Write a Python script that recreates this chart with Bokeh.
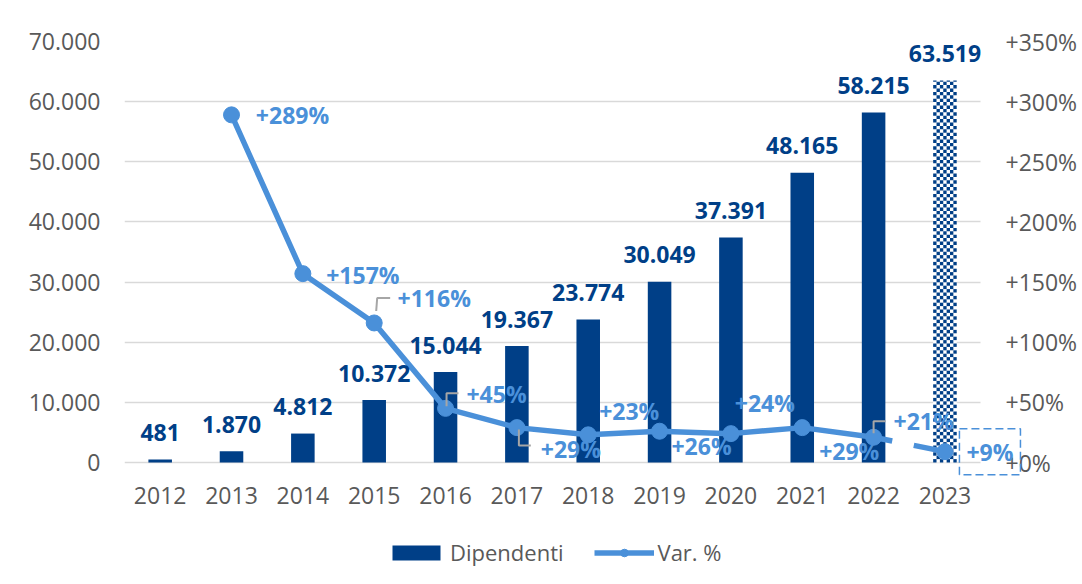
import numpy as np
from bokeh.plotting import figure
from bokeh.models import (Range1d, LinearAxis, FixedTicker, ColumnDataSource,
                          LabelSet, Label, Legend, LegendItem)
from bokeh.embed import file_html
from bokeh.resources import INLINE
from bokeh.core.properties import value

# ---------------- data ----------------
years = ["2012", "2013", "2014", "2015", "2016", "2017",
         "2018", "2019", "2020", "2021", "2022", "2023"]
dipendenti = [481, 1870, 4812, 10372, 15044, 19367,
              23774, 30049, 37391, 48165, 58215, 63519]
dipendenti_labels = ["481", "1.870", "4.812", "10.372", "15.044", "19.367",
                     "23.774", "30.049", "37.391", "48.165", "58.215", "63.519"]
var_years = years[1:]
var_pct = [289, 157, 116, 45, 29, 23, 26, 24, 29, 21, 9]
var_labels = ["+289%", "+157%", "+116%", "+45%", "+29%", "+23%",
              "+26%", "+24%", "+29%", "+21%", "+9%"]
left_ticks = [0, 10000, 20000, 30000, 40000, 50000, 60000, 70000]
left_tick_labels = ["0", "10.000", "20.000", "30.000", "40.000",
                    "50.000", "60.000", "70.000"]
right_ticks = [0, 50, 100, 150, 200, 250, 300, 350]
right_tick_labels = ["+0%", "+50%", "+100%", "+150%", "+200%",
                     "+250%", "+300%", "+350%"]

# ---------------- style / layout ----------------
BAR = "#003f87"
LINE = "#4a90d9"
GREY = "#595959"
FONT = "Open Sans"
FS = "23px"

W, H = 1080, 582
LEFT, TOP = 124, 41
CAT_PX = 71.5                 # pixels per category
VAL_PX = 421                  # pixels from 0 to axis max
EXTRA_R = 50                  # frame extension to the right (room for last label)
EXTRA_B = 116                 # frame extension below zero (room for legend)
FRAME_W = CAT_PX * len(years) + EXTRA_R
RIGHT = W - LEFT - FRAME_W
BOTTOM = H - TOP - VAL_PX - EXTRA_B
PX_P = VAL_PX / 350.0
PX_V = VAL_PX / 70000.0

n = len(years)
p = figure(width=W, height=H, output_backend="svg", toolbar_location=None,
           x_range=Range1d(-0.5, n - 0.5 + EXTRA_R / CAT_PX),
           y_range=Range1d(-EXTRA_B / PX_V, 70000),
           min_border_left=LEFT, min_border_right=int(RIGHT), min_border_top=TOP,
           min_border_bottom=int(BOTTOM))
p.outline_line_color = None
p.background_fill_color = "white"
p.border_fill_color = "white"
p.extra_y_ranges = {"pct": Range1d(-EXTRA_B / PX_P, 350)}

# axes
xi = list(range(n))
p.xaxis.ticker = FixedTicker(ticks=xi)
p.xaxis.major_label_overrides = {i: y for i, y in zip(xi, years)}
p.xaxis.major_label_standoff = -(EXTRA_B - 24)
p.yaxis.ticker = FixedTicker(ticks=left_ticks)
p.yaxis.major_label_overrides = {t: l for t, l in zip(left_ticks, left_tick_labels)}
p.yaxis.major_label_standoff = 24

ax_r = LinearAxis(y_range_name="pct", ticker=FixedTicker(ticks=right_ticks))
ax_r.major_label_overrides = {t: l for t, l in zip(right_ticks, right_tick_labels)}
ax_r.major_label_standoff = -(EXTRA_R - 25)
p.add_layout(ax_r, "right")

for ax in [p.xaxis[0], p.yaxis[0], ax_r]:
    ax.axis_line_color = None
    ax.major_tick_line_color = None
    ax.minor_tick_line_color = None
    ax.major_tick_out = 0
    ax.major_tick_in = 0
    ax.minor_tick_out = 0
    ax.minor_tick_in = 0
    ax.major_label_text_font = FONT
    ax.major_label_text_font_size = FS
    ax.major_label_text_color = GREY

p.xgrid.grid_line_color = None
p.ygrid.ticker = FixedTicker(ticks=left_ticks)
p.ygrid.cross_bounds = (-0.5, n - 0.5)
p.ygrid.grid_line_color = "#d9d9d9"
p.ygrid.grid_line_width = 1.5

# bars
BW = 0.33
bar_src = ColumnDataSource(dict(x=xi[:-1], top=dipendenti[:-1]))
bars = p.vbar(x="x", top="top", width=BW, source=bar_src,
              fill_color=BAR, line_color=None)
# last (estimated) bar: checkerboard pattern built from its value
p.vbar(x=[xi[-1]], top=[dipendenti[-1]], width=BW, fill_color="white", line_color=None)
SQ = 3.4
ncol = int(round(BW * CAT_PX / SQ))
row_h = SQ / PX_V
nrow = int(np.ceil(dipendenti[-1] / row_h))
ql, qr, qb, qt = [], [], [], []
for r in range(nrow):
    for c in range(ncol):
        if (r + c) % 2 == 0:
            ql.append(xi[-1] - BW / 2 + c * BW / ncol)
            qr.append(xi[-1] - BW / 2 + (c + 1) * BW / ncol)
            qb.append(r * row_h)
            qt.append(min((r + 1) * row_h, dipendenti[-1]))
p.quad(left=ql, right=qr, bottom=qb, top=qt, fill_color=BAR, line_color=None)

# bar labels
lab_src = ColumnDataSource(dict(x=xi, y=dipendenti, t=dipendenti_labels))
p.add_layout(LabelSet(x="x", y="y", text="t", source=lab_src, y_offset=27,
                      text_align="center", text_baseline="middle",
                      text_font=value(FONT), text_font_size=FS,
                      text_font_style="bold", text_color=BAR))

# line
vx = xi[1:]
solid = p.line(vx[:-1], var_pct[:-1], y_range_name="pct",
               line_color=LINE, line_width=5.5)
p.line(vx[-2:], var_pct[-2:], y_range_name="pct", line_color=LINE,
       line_width=5.5, line_dash="19 22 40 10")
dots = p.scatter(vx, var_pct, y_range_name="pct", size=16,
                 fill_color=LINE, line_color=LINE)

# leader lines (pixel offsets from the point, converted to data units)
leaders = {2: [(2, 12), (3, 25), (16, 25)],
           3: [(1, 2), (1, 15), (13, 15)],
           4: [(2, -2), (2, -18), (14, -18)],
           9: [(0, 4), (0, 16), (12, 16)]}
lxs, lys = [], []
for k, pts in leaders.items():
    lxs.append([vx[k] + dx / CAT_PX for dx, dy in pts])
    lys.append([var_pct[k] + dy / PX_P for dx, dy in pts])
p.multi_line(lxs, lys, y_range_name="pct", line_color="#a6a6a6", line_width=2)

# line labels
dxs = [61, 60, 60, 51, 54, 41, 42, 34, 47, 50]
dys = [0, -1, 25, 14, -21, 24, -15, 31, -23, 16]
vl_src = ColumnDataSource(dict(x=vx[:-1], y=var_pct[:-1], t=var_labels[:-1],
                               dx=dxs, dy=dys))
p.add_layout(LabelSet(x="x", y="y", text="t", source=vl_src, y_range_name="pct",
                      x_offset="dx", y_offset="dy",
                      text_align="center", text_baseline="middle",
                      text_font=value(FONT), text_font_size=FS,
                      text_font_style="bold", text_color=LINE))
p.add_layout(Label(x=vx[-1], y=var_pct[-1], text=var_labels[-1], y_range_name="pct",
                   x_offset=45, y_offset=0, text_align="center",
                   text_baseline="middle", text_font=FONT, text_font_size=FS,
                   text_font_style="bold", text_color=LINE,
                   border_line_color=LINE, border_line_dash="8 4",
                   border_line_width=1.5, padding=7))

# legend
legend = Legend(items=[LegendItem(label="Dipendenti", renderers=[bars]),
                       LegendItem(label="Var. %", renderers=[solid, dots])],
                orientation="horizontal", location=(262, 11),
                glyph_width=60, glyph_height=19, label_standoff=4, spacing=30,
                padding=0, margin=0, border_line_color=None,
                background_fill_alpha=0,
                label_text_font=FONT, label_text_font_size="22px",
                label_text_color=GREY)
p.add_layout(legend, "center")

open("out.html", "w").write(file_html(p, INLINE))
